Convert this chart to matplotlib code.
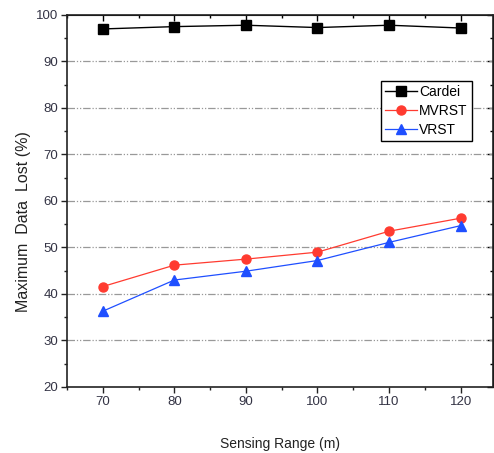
import matplotlib
matplotlib.use("Agg")
import matplotlib.pyplot as plt
from matplotlib.ticker import MultipleLocator

plt.rcParams['font.family'] = ['Liberation Sans', 'DejaVu Sans']

sensing_range = [70, 80, 90, 100, 110, 120]
cardei = [97.0, 97.5, 97.8, 97.3, 97.8, 97.2]
mvrst = [41.6, 46.2, 47.5, 49.0, 53.5, 56.3]
vrst = [36.3, 43.0, 44.9, 47.2, 51.1, 54.7]

fig = plt.figure(figsize=(4.94, 4.53), dpi=100)
ax = fig.add_axes([0.1356, 0.1457, 0.862, 0.8212])

ax.plot(sensing_range, cardei, color='black', marker='s', markersize=6.5,
        linewidth=1.0, label='Cardei', zorder=3)
ax.plot(sensing_range, mvrst, color='#ff3b30', marker='o', markersize=6.5,
        linewidth=0.9, label='MVRST', zorder=3)
ax.plot(sensing_range, vrst, color='#1f4fff', marker='^', markersize=6.5,
        linewidth=0.9, label='VRST', zorder=3)

ax.set_xlim(65, 124.5)
ax.set_ylim(20, 100)
ax.set_xticks(sensing_range)
ax.xaxis.set_minor_locator(MultipleLocator(5))
ax.yaxis.set_major_locator(MultipleLocator(10))
ax.yaxis.set_minor_locator(MultipleLocator(5))

for y in range(30, 100, 10):
    ax.axhline(y, color='#999999', linewidth=0.9, linestyle=(0, (6, 1.5, 1, 1.5, 1, 1.5)),
               zorder=1)

ax.tick_params(which='both', direction='out', colors='#222222', labelsize=9.5,
               labelcolor='#333344', pad=2.5)
ax.tick_params(which='major', length=4, width=1)
ax.tick_params(which='minor', length=2.5, width=1)

top = ax.secondary_xaxis('top')
top.set_xticks(sensing_range)
top.xaxis.set_minor_locator(MultipleLocator(5))
top.tick_params(which='both', direction='in', labeltop=False)
top.tick_params(which='major', length=4, width=1)
top.tick_params(which='minor', length=2.5, width=1)

right = ax.secondary_yaxis('right')
right.yaxis.set_major_locator(MultipleLocator(10))
right.yaxis.set_minor_locator(MultipleLocator(5))
right.tick_params(which='both', direction='in', labelright=False)
right.tick_params(which='major', length=4, width=1)
right.tick_params(which='minor', length=2.5, width=1)

for s in ax.spines.values():
    s.set_linewidth(1.2)
    s.set_color('#222222')

ax.set_xlabel('Sensing Range (m)', fontsize=10, labelpad=21, color='#222222')
ax.set_ylabel('Maximum  Data  Lost (%)', fontsize=11.5, color='#222222',
              va='center')
ax.yaxis.set_label_coords(-0.101, 0.4435)

leg = ax.legend(loc='upper right', bbox_to_anchor=(0.951, 0.823), fontsize=10,
                frameon=True, fancybox=False, edgecolor='black', framealpha=1,
                handlelength=2.3, handletextpad=0.15, borderpad=0.3,
                labelspacing=0.35, borderaxespad=0)
leg.get_frame().set_linewidth(1.0)

fig.savefig('out.png', dpi=100)
